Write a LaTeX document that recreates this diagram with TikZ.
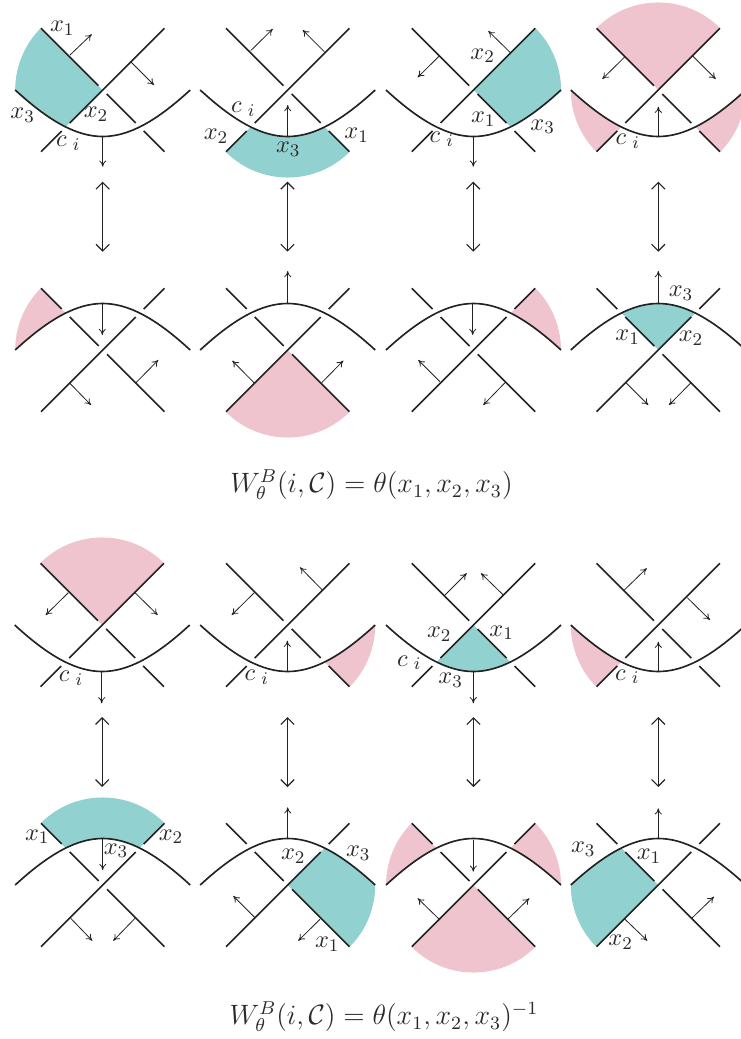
\documentclass[tikz,border=0pt]{standalone}
\usetikzlibrary{arrows.meta}
\definecolor{tealfill}{HTML}{91D1CF}
\definecolor{pinkfill}{HTML}{EFC4CE}
\definecolor{inkline}{HTML}{222222}
\definecolor{inktext}{HTML}{2A2A2A}
\tikzset{
  strand/.style={draw=inkline,line width=0.74pt},
  normalarrow/.style={draw=inkline,line width=0.36pt,-{Computer Modern Rightarrow[length=2.8pt,width=3.2pt]}},
  swaparrow/.style={draw=inkline,line width=0.5pt,{Straight Barb[length=3pt,width=6pt]}-{Straight Barb[length=3pt,width=6pt]}},
  lab/.style={inner sep=0pt,text=inktext,font=\fontsize{10.95}{13}\selectfont},
  formula/.style={inner sep=0pt,text=inktext,scale=1.05,font=\fontsize{12}{14}\selectfont}
}
% shapes in the frame where the long curve hangs below the crossing
\newcommand{\shA}{(0,0) -- (-61.9,61.9) arc[start angle=135,end angle=180,radius=87.5] .. controls (-68.7,-17.3) and (-52.3,-29.3) .. (-37,-37) -- cycle}
\newcommand{\shB}{(-61.9,-61.9) arc[start angle=225,end angle=315,radius=87.5] -- (37,-37) .. controls (23.95,-43.5) and (11.75,-46.5) .. (0,-46.5) .. controls (-11.75,-46.5) and (-23.95,-43.5) .. (-37,-37) -- cycle}
\newcommand{\shC}{(-87.5,0) arc[start angle=180,end angle=225,radius=87.5] -- (-37,-37) .. controls (-52.3,-29.3) and (-68.7,-17.3) .. (-87.5,0) -- cycle}
\newcommand{\shD}{(0,0) -- (-61.9,61.9) arc[start angle=135,end angle=45,radius=87.5] -- cycle}
\newcommand{\shE}{(0,0) -- (37,-37) .. controls (23.95,-43.5) and (11.75,-46.5) .. (0,-46.5) .. controls (-11.75,-46.5) and (-23.95,-43.5) .. (-37,-37) -- cycle}
\newcommand{\strands}{%
  \draw[strand] (-87.5,0) .. controls (-52,-32.7) and (-25,-46.5) .. (0,-46.5) .. controls (25,-46.5) and (52,-32.7) .. (87.5,0);
  \draw[strand] (61.7,61.7) -- (-33,-33);
  \draw[strand] (-41,-41) -- (-61.7,-61.7);
  \draw[strand] (-61.7,61.7) -- (-4.3,4.3);
  \draw[strand] (4,-4) -- (33,-33);
  \draw[strand] (41,-41) -- (61.7,-61.7);
}
% #1 colour, #2 xscale, #3 yscale, #4 shape
\newcommand{\patch}[4]{\fill[#1,xscale=#2,yscale=#3] #4;}
\newcommand{\panelU}[3]{\begin{scope}[shift={({#1*0.45pt},{-#2*0.45pt})}]#3\strands\end{scope}}
\newcommand{\panelN}[3]{\begin{scope}[shift={({#1*0.45pt},{-#2*0.45pt})}]#3\begin{scope}[rotate=180]\strands\end{scope}\end{scope}}
\newcommand{\ar}[4]{\draw[normalarrow] (#1,-#2) -- (#3,-#4);}
\begin{document}
\begin{tikzpicture}[x=0.45pt,y=0.45pt]
\useasboundingbox (0,0) rectangle (741,-1039);
\clip (0,0) rectangle (741,-1039);
% Row 1
\panelU{102.7}{90}{\patch{tealfill}{1}{1}{\shA}}
\panelU{287.7}{90}{\patch{tealfill}{1}{1}{\shB}}
\panelU{473.5}{90}{\patch{tealfill}{-1}{1}{\shA}}
\panelU{658.3}{90}{\patch{pinkfill}{1}{1}{\shD}\patch{pinkfill}{1}{1}{\shC}\patch{pinkfill}{-1}{1}{\shC}}
% Row 2
\panelN{102.7}{350}{\patch{pinkfill}{1}{-1}{\shC}}
\panelN{287.7}{350}{\patch{pinkfill}{1}{-1}{\shD}}
\panelN{473.5}{350}{\patch{pinkfill}{-1}{-1}{\shC}}
\panelN{658.3}{350}{\patch{tealfill}{1}{-1}{\shE}}
% Row 3
\panelU{102.2}{625}{\patch{pinkfill}{1}{1}{\shD}}
\panelU{287.7}{625}{\patch{pinkfill}{-1}{1}{\shC}}
\panelU{473.5}{625}{\patch{tealfill}{1}{1}{\shE}}
\panelU{658.3}{625}{\patch{pinkfill}{1}{1}{\shC}}
% Row 4
\panelN{102.7}{885}{\patch{tealfill}{1}{-1}{\shB}}
\panelN{287.7}{885}{\patch{tealfill}{-1}{-1}{\shA}}
\panelN{473.5}{885}{\patch{pinkfill}{1}{-1}{\shD}\patch{pinkfill}{1}{-1}{\shC}\patch{pinkfill}{-1}{-1}{\shC}}
\panelN{658.3}{885}{\patch{tealfill}{1}{-1}{\shA}}
% normal arrows
\ar{70}{55}{91.7}{34.3}\ar{130.7}{61.7}{154}{85}\ar{102.7}{136}{102.7}{166.7}
\ar{250.7}{50.7}{272.7}{29}\ar{324.3}{51.7}{302.7}{30}\ar{287.7}{136}{287.7}{105}
\ar{439.3}{56}{417.7}{77.3}\ar{510}{52.3}{488.3}{31}\ar{473.3}{136}{473.3}{166.7}
\ar{625}{56.7}{602.3}{79}\ar{692.7}{56}{715.7}{79}\ar{658.3}{136}{658.3}{106.7}
\ar{69.3}{382.7}{91}{405}\ar{136}{382.7}{158.3}{360}\ar{102.3}{302.7}{102.3}{335}
\ar{254}{382.7}{232.3}{360.7}\ar{321.7}{382.7}{343.3}{360.7}\ar{287.7}{302.7}{287.7}{271}
\ar{440}{381.7}{418.3}{360}\ar{505}{382.7}{483.3}{405}\ar{472.7}{302.7}{472.7}{335}
\ar{626}{382.7}{648.3}{405}\ar{691}{382.7}{669}{405}\ar{658.3}{302.7}{658.3}{271}
\ar{68.3}{592.7}{45.7}{615}\ar{135}{592.7}{157.7}{615}\ar{101.7}{671.7}{101.7}{703.3}
\ar{254.3}{592.7}{231.7}{615}\ar{322.3}{590}{300}{567.3}\ar{287.3}{671.7}{287.3}{640.7}
\ar{445}{595}{466.7}{573.3}\ar{503.3}{595}{481}{573.3}\ar{473.3}{671.7}{473.3}{703.3}
\ar{624.3}{590}{646.7}{568.3}\ar{687.3}{597.7}{710}{620}\ar{658.3}{671.7}{658.3}{641.7}
\ar{70.7}{918.3}{92.3}{940.7}\ar{135}{918.3}{113.3}{940.7}\ar{102.7}{839.3}{102.7}{870}
\ar{255}{917.7}{233.3}{896}\ar{320}{919.3}{298.3}{940.7}\ar{287.7}{839.3}{287.7}{807.3}
\ar{440}{920}{417.7}{898.3}\ar{507.7}{919.3}{529.3}{898.3}\ar{473.3}{840}{473.3}{871.7}
\ar{625}{919.3}{647.3}{940.7}\ar{691.7}{918.3}{714}{896.7}\ar{658.3}{839.3}{658.3}{808.3}
% double arrows
\coordinate (uA) at (102.7,-181.7); \coordinate (vA) at (102.7,-251.7);
\coordinate (uB) at (287.5,-181.7); \coordinate (vB) at (287.5,-251.7);
\coordinate (uC) at (473.2,-181.7); \coordinate (vC) at (473.2,-251.7);
\coordinate (uD) at (658.3,-181.7); \coordinate (vD) at (658.3,-251.7);
\coordinate (wA) at (102.2,-717);   \coordinate (zA) at (102.2,-787);
\coordinate (wB) at (287.5,-717);   \coordinate (zB) at (287.5,-787);
\coordinate (wC) at (473.5,-717);   \coordinate (zC) at (473.5,-787);
\coordinate (wD) at (658.3,-717);   \coordinate (zD) at (658.3,-787);
\draw[swaparrow] (uA) -- (vA);
\draw[swaparrow] (uB) -- (vB);
\draw[swaparrow] (uC) -- (vC);
\draw[swaparrow] (uD) -- (vD);
\draw[swaparrow] (wA) -- (zA);
\draw[swaparrow] (wB) -- (zB);
\draw[swaparrow] (wC) -- (zC);
\draw[swaparrow] (wD) -- (zD);
% labels
\node[lab] (a1) at (62.3,-28.3) {$x_1$};
\node[lab] (a2) at (96,-114) {$x_2$};
\node[lab] (a3) at (22.7,-115) {$x_3$};
\node[lab] (a4) at (68.3,-143.3) {$c_{\mkern6mu i}$};
\node[lab] (b4) at (243.3,-109) {$c_{\mkern6mu i}$};
\node[lab] (b2) at (216,-136) {$x_2$};
\node[lab] (b3) at (288.3,-149) {$x_3$};
\node[lab] (b1) at (356.7,-135) {$x_1$};
\node[lab] (c2) at (482.7,-55.7) {$x_2$};
\node[lab] (c1) at (483.3,-119.3) {$x_1$};
\node[lab] (c3) at (542.7,-126.7) {$x_3$};
\node[lab] (c4) at (441.7,-139.3) {$c_{\mkern6mu i}$};
\node[lab] (d4) at (627.7,-141) {$c_{\mkern6mu i}$};
\node[lab] (e3) at (681,-293.3) {$x_3$};
\node[lab] (e1) at (627.7,-337.3) {$x_1$};
\node[lab] (e2) at (691,-338.3) {$x_2$};
\node[formula] (f1) at (371.5,-485) {$W_\theta^B(i,\mathcal{C})=\theta(x_1,x_2,x_3)$};
\node[lab] (g4) at (71,-678.3) {$c_{\mkern6mu i}$};
\node[lab] (h4) at (256.7,-677.3) {$c_{\mkern6mu i}$};
\node[lab] (i2) at (439.3,-634.3) {$x_2$};
\node[lab] (i1) at (501.7,-632.7) {$x_1$};
\node[lab] (i4) at (409.3,-662.7) {$c_{\mkern6mu i}$};
\node[lab] (i3) at (450.7,-680) {$x_3$};
\node[lab] (j4) at (627.3,-676.7) {$c_{\mkern6mu i}$};
\node[lab] (k1) at (37.3,-836.7) {$x_1$};
\node[lab] (k2) at (171,-836.7) {$x_2$};
\node[lab] (k3) at (116,-850.7) {$x_3$};
\node[lab] (l2) at (293.3,-856) {$x_2$};
\node[lab] (l3) at (358.3,-853.3) {$x_3$};
\node[lab] (l1) at (327.3,-944) {$x_1$};
\node[lab] (m3) at (583.3,-849) {$x_3$};
\node[lab] (m1) at (649,-856) {$x_1$};
\node[lab] (m2) at (620.7,-942.3) {$x_2$};
\node[formula] (f2) at (384,-1017) {$W_\theta^B(i,\mathcal{C})=\theta(x_1,x_2,x_3)^{-1}$};
\end{tikzpicture}
\end{document}
